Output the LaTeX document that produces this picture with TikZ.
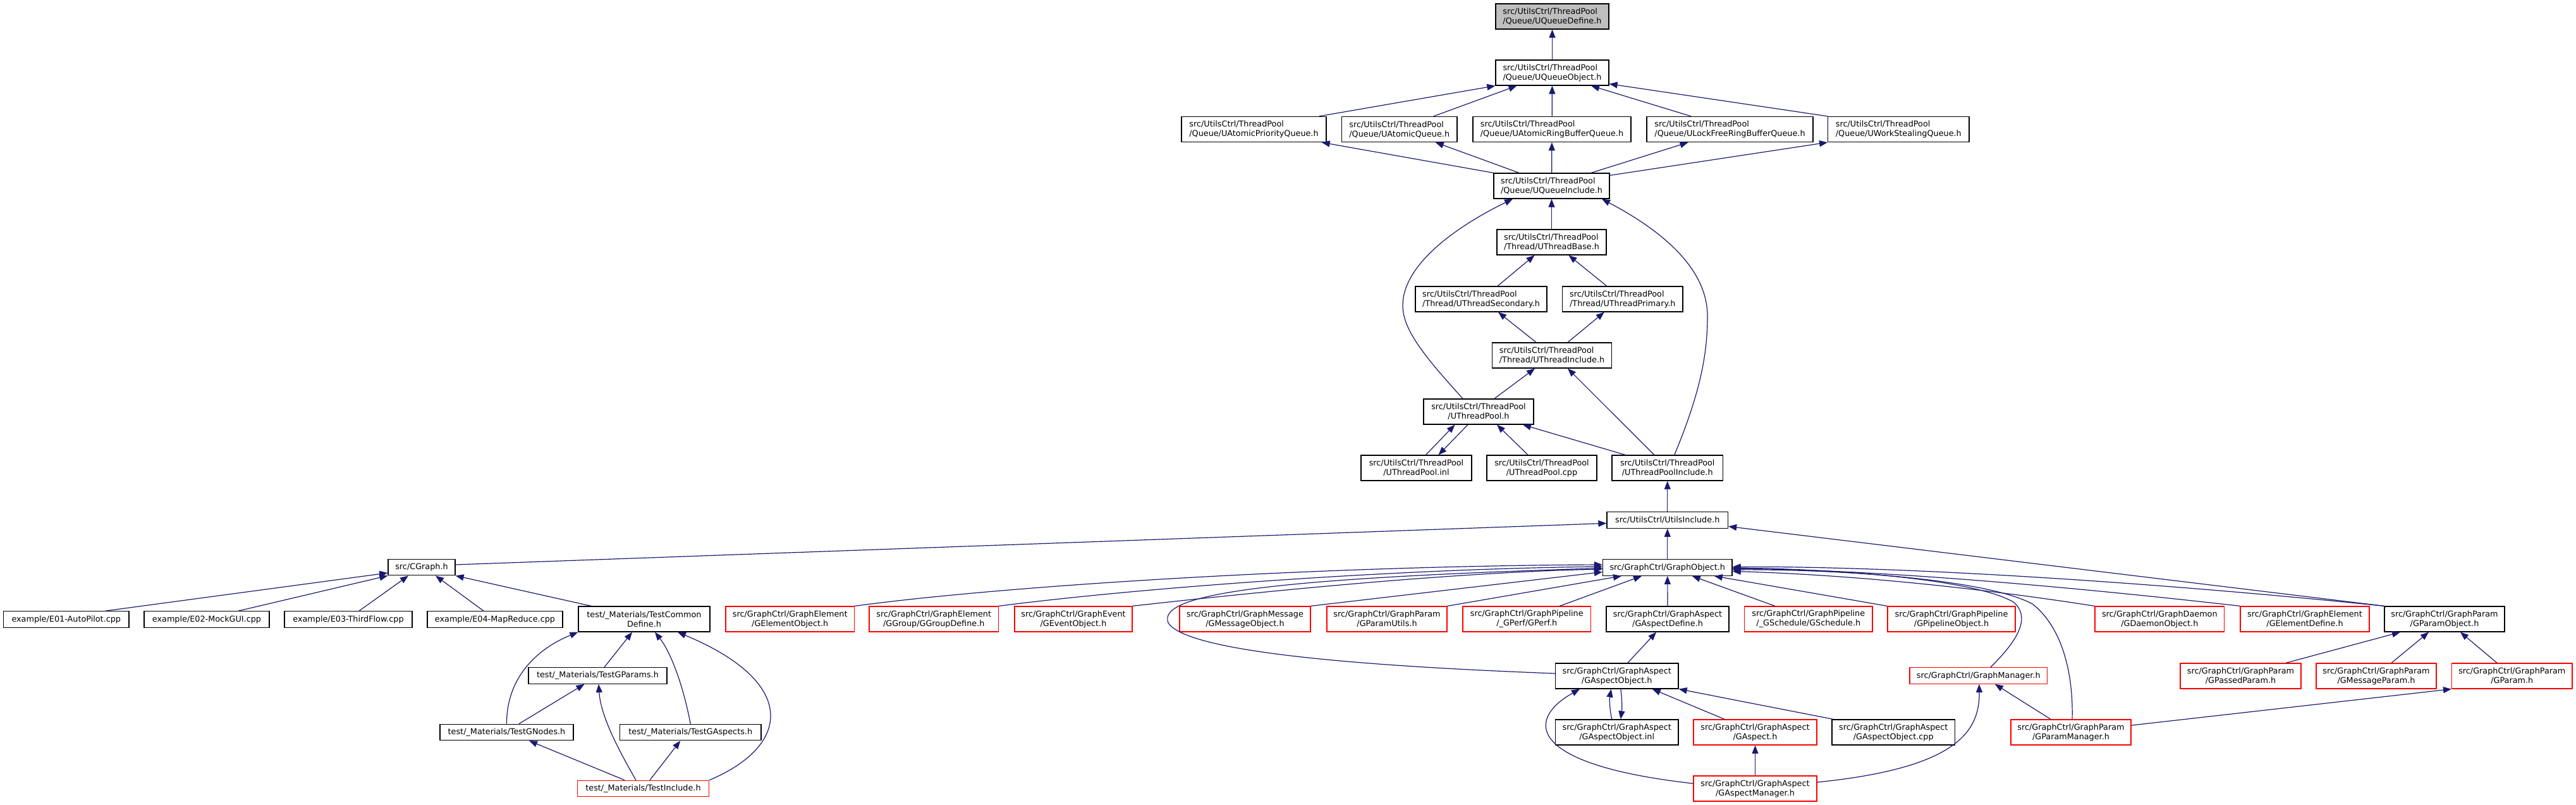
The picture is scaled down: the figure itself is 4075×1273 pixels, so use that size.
\documentclass[tikz,border=0pt]{standalone}
\usepackage{fontspec}
\newfontfamily\dxfont{DejaVu Sans}
\usetikzlibrary{arrows.meta}
\definecolor{edgec}{HTML}{191970}
\definecolor{rootc}{HTML}{BFBFBF}
\definecolor{redc}{HTML}{FF0000}
\tikzset{
  box/.style={draw=black, line width=1.3pt, fill=white, inner sep=0pt, minimum height=40, align=center, font=\dxfont\fontsize{12.8pt}{15pt}\selectfont},
  onel/.style={minimum height=25.5},
  redbox/.style={box, draw=redc},
  rootbox/.style={box, fill=rootc},
  lft/.style={align=left},
  e/.style={draw=edgec, line width=1.2pt, -{Triangle[length=13pt,width=10pt]}},
}
\begin{document}
\begin{tikzpicture}[x=1pt,y=-1pt]
\useasboundingbox (0,0) rectangle (4075,1273);
% ---------------- nodes ----------------
\node[rootbox,lft,minimum width=179] (qdef) at (2455.5,26) {src/UtilsCtrl/ThreadPool\\/Queue/UQueueDefine.h};
\node[box,lft,minimum width=179] (qobj) at (2455.5,115) {src/UtilsCtrl/ThreadPool\\/Queue/UQueueObject.h};
\node[box,lft,minimum width=229] (qprio) at (1983.5,204.5) {src/UtilsCtrl/ThreadPool\\/Queue/UAtomicPriorityQueue.h};
\node[box,lft,minimum width=182.5] (qatom) at (2213.75,204.5) {src/UtilsCtrl/ThreadPool\\/Queue/UAtomicQueue.h};
\node[box,lft,minimum width=250] (qring) at (2455,204.5) {src/UtilsCtrl/ThreadPool\\/Queue/UAtomicRingBufferQueue.h};
\node[box,lft,minimum width=263] (qlock) at (2736.5,204.5) {src/UtilsCtrl/ThreadPool\\/Queue/ULockFreeRingBufferQueue.h};
\node[box,lft,minimum width=223.3] (qsteal) at (3003.3,204.5) {src/UtilsCtrl/ThreadPool\\/Queue/UWorkStealingQueue.h};
\node[box,lft,minimum width=183] (qinc) at (2454.5,294) {src/UtilsCtrl/ThreadPool\\/Queue/UQueueInclude.h};
\node[box,lft,minimum width=173] (tbase) at (2454.5,383) {src/UtilsCtrl/ThreadPool\\/Thread/UThreadBase.h};
\node[box,lft,minimum width=208] (tsec) at (2343,473) {src/UtilsCtrl/ThreadPool\\/Thread/UThreadSecondary.h};
\node[box,lft,minimum width=190.5] (tprim) at (2566.75,473) {src/UtilsCtrl/ThreadPool\\/Thread/UThreadPrimary.h};
\node[box,lft,minimum width=189] (tinc) at (2455,562) {src/UtilsCtrl/ThreadPool\\/Thread/UThreadInclude.h};
\node[box,minimum width=174] (tpool) at (2339,651) {src/UtilsCtrl/ThreadPool\\/UThreadPool.h};
\node[box,minimum width=175] (tinl) at (2240.5,740) {src/UtilsCtrl/ThreadPool\\/UThreadPool.inl};
\node[box,minimum width=174] (tcpp) at (2439,740) {src/UtilsCtrl/ThreadPool\\/UThreadPool.cpp};
\node[box,minimum width=175.5] (tpinc) at (2637.75,740) {src/UtilsCtrl/ThreadPool\\/UThreadPoolInclude.h};
\node[box,onel,minimum width=191.5] (uinc) at (2637.75,822.5) {src/UtilsCtrl/UtilsInclude.h};
\node[box,onel,minimum width=204.5] (gobj) at (2637.75,897.5) {src/GraphCtrl/GraphObject.h};
\node[box,onel,minimum width=106] (cgraph) at (667,897) {src/CGraph.h};
% row 959-999
\node[box,onel,minimum width=198.4] (e01) at (104.8,979.5) {example/E01-AutoPilot.cpp};
\node[box,onel,minimum width=198] (e02) at (327,979.5) {example/E02-MockGUI.cpp};
\node[box,onel,minimum width=202] (e03) at (551,979.5) {example/E03-ThirdFlow.cpp};
\node[box,onel,minimum width=214] (e04) at (783,979.5) {example/E04-MapReduce.cpp};
\node[box,minimum width=208] (tcd) at (1019,979) {test/\_Materials/TestCommon\\Define.h};
\node[redbox,minimum width=203.5] (gelobj) at (1249.75,979) {src/GraphCtrl/GraphElement\\/GElementObject.h};
\node[redbox,minimum width=204.5] (ggroup) at (1477.25,979) {src/GraphCtrl/GraphElement\\/GGroup/GGroupDefine.h};
\node[redbox,minimum width=186] (gevent) at (1698,979) {src/GraphCtrl/GraphEvent\\/GEventObject.h};
\node[redbox,minimum width=207] (gmsg) at (1969.5,979) {src/GraphCtrl/GraphMessage\\/GMessageObject.h};
\node[redbox,minimum width=190] (gputils) at (2194,979) {src/GraphCtrl/GraphParam\\/GParamUtils.h};
\node[redbox,minimum width=202.6] (gperf) at (2415.3,979) {src/GraphCtrl/GraphPipeline\\/\_GPerf/GPerf.h};
\node[box,minimum width=194] (gadef) at (2638,979) {src/GraphCtrl/GraphAspect\\/GAspectDefine.h};
\node[redbox,minimum width=202.4] (gsched) at (2860.8,979) {src/GraphCtrl/GraphPipeline\\/\_GSchedule/GSchedule.h};
\node[redbox,minimum width=202] (gpipe) at (3087,979) {src/GraphCtrl/GraphPipeline\\/GPipelineObject.h};
\node[redbox,minimum width=204.6] (gdaemon) at (3416.3,979) {src/GraphCtrl/GraphDaemon\\/GDaemonObject.h};
\node[redbox,minimum width=204] (geldef) at (3646,979) {src/GraphCtrl/GraphElement\\/GElementDefine.h};
\node[box,minimum width=190] (gpobj) at (3867,979) {src/GraphCtrl/GraphParam\\/GParamObject.h};
% row 1049-1089
\node[box,onel,minimum width=219] (tgparams) at (945.5,1068.5) {test/\_Materials/TestGParams.h};
\node[box,minimum width=194.5] (gaobj) at (2557.75,1069) {src/GraphCtrl/GraphAspect\\/GAspectObject.h};
\node[redbox,onel,minimum width=217.6] (gmgr) at (3129.8,1068.5) {src/GraphCtrl/GraphManager.h};
\node[redbox,minimum width=191] (gpassed) at (3544.5,1069) {src/GraphCtrl/GraphParam\\/GPassedParam.h};
\node[redbox,minimum width=190] (gmsgparam) at (3759,1069) {src/GraphCtrl/GraphParam\\/GMessageParam.h};
\node[redbox,minimum width=190.4] (gparam) at (3973.8,1069) {src/GraphCtrl/GraphParam\\/GParam.h};
% row 1138-1178
\node[box,onel,minimum width=211] (tgnodes) at (801.5,1158) {test/\_Materials/TestGNodes.h};
\node[box,onel,minimum width=223.5] (tgaspects) at (1092.25,1158) {test/\_Materials/TestGAspects.h};
\node[box,minimum width=194.5] (gainl) at (2557.75,1158) {src/GraphCtrl/GraphAspect\\/GAspectObject.inl};
\node[redbox,minimum width=195] (gaspect) at (2776.5,1158) {src/GraphCtrl/GraphAspect\\/GAspect.h};
\node[box,minimum width=194.5] (gacpp) at (2995.25,1158) {src/GraphCtrl/GraphAspect\\/GAspectObject.cpp};
\node[redbox,minimum width=190] (gpmgr) at (3276,1158) {src/GraphCtrl/GraphParam\\/GParamManager.h};
% row 1227-1267
\node[redbox,onel,minimum width=208] (tinclude) at (1017.5,1247) {test/\_Materials/TestInclude.h};
\node[redbox,minimum width=195] (gamgr) at (2776.5,1247) {src/GraphCtrl/GraphAspect\\/GAspectManager.h};
% ---------------- edges ----------------
% queue
\draw[e] (qobj) -- (qdef);
\draw[e] ([xshift=-12]qprio.north east) -- (qobj.south west);
\draw[e] ([xshift=54]qatom.north) -- ([xshift=-56]qobj.south);
\draw[e] (qring) -- (qobj);
\draw[e] ([xshift=-61.5]qlock.north) -- ([xshift=61.5]qobj.south);
\draw[e] (qsteal.north west) -- ([yshift=3]qobj.south east);
\draw[e] (qinc.north west) -- ([xshift=-8]qprio.south east);
\draw[e] ([xshift=-51.5]qinc.north) -- ([xshift=57]qatom.south);
\draw[e] (qinc) -- (qring);
\draw[e] ([xshift=62.5]qinc.north) -- ([xshift=-66]qlock.south);
\draw[e] ([yshift=-4]qinc.north east) -- (qsteal.south west);
% thread
\draw[e] (tbase) -- (qinc);
\draw[e] ([xshift=26]tsec.north) -- ([xshift=-27]tbase.south);
\draw[e] ([xshift=-25]tprim.north) -- ([xshift=27]tbase.south);
\draw[e] ([xshift=-25]tinc.north) -- ([xshift=27]tsec.south);
\draw[e] ([xshift=25]tinc.north) -- ([xshift=-29]tprim.south);
\draw[e] ([xshift=25]tpool.north) -- ([xshift=-27]tinc.south);
\draw[e] ([xshift=-21]tpinc.north) -- ([xshift=25]tinc.south);
\draw[e] ([xshift=-25]tpool.north) .. controls (2250,560) and (2219,520) .. (2219,483) .. controls (2219,420) and (2300,360) .. ([xshift=-61.5]qinc.south);
\draw[e] ([xshift=11]tpinc.north) .. controls (2690,620) and (2701,560) .. (2701,500) .. controls (2701,420) and (2620,360) .. ([xshift=79.5]qinc.south);
\draw[e] ([xshift=15]tinl.north) -- ([xshift=-37.5]tpool.south);
\draw[e] ([xshift=-17]tpool.south) -- ([xshift=35]tinl.north);
\draw[e] ([xshift=-22]tcpp.north) -- ([xshift=29]tpool.south);
\draw[e] ([xshift=-66.75]tpinc.north) -- ([xshift=70]tpool.south);
\draw[e] (uinc) -- (tpinc);
\draw[e] (gobj) -- (uinc);
\draw[e] ([yshift=4]cgraph.east) -- ([yshift=-5]uinc.west);
\draw[e] (gpobj.north west) -- ([yshift=-10]uinc.east);
% cgraph
\draw[e] ([xshift=62]e01.north) -- ([yshift=-9]cgraph.west);
\draw[e] ([xshift=50]e02.north) -- (cgraph.south west);
\draw[e] ([xshift=17]e03.north) -- ([xshift=-21]cgraph.south);
\draw[e] ([xshift=-18]e04.north) -- ([xshift=22]cgraph.south);
\draw[e] ([xshift=21]tcd.north west) -- (cgraph.south east);
% tests
\draw[e] ([xshift=10.5]tgparams.north) -- ([xshift=-19]tcd.south);
\draw[e] (tgnodes.north) .. controls (801,1080) and (840,1030) .. (tcd.south west);
\draw[e] (tgaspects.north) .. controls (1080,1080) and (1060,1030) .. ([xshift=17]tcd.south);
\draw[e] (tinclude.north east) .. controls (1250,1180) and (1265,1080) .. ([xshift=53]tcd.south);
\draw[e] ([xshift=19.5]tgnodes.north) -- ([xshift=-21]tgparams.south);
\draw[e] ([xshift=-11.5]tinclude.north) .. controls (975,1180) and (950,1130) .. ([xshift=1.5]tgparams.south);
\draw[e] ([xshift=-29.5]tinclude.north) -- ([xshift=35.5]tgnodes.south);
\draw[e] ([xshift=10.5]tinclude.north) -- ([xshift=-16]tgaspects.south);
% graph object, left side
\draw[e] (gelobj.north east) .. controls (1600,925) and (2100,895) .. ([yshift=4.5]gobj.west);
\draw[e] (ggroup.north east) .. controls (1800,930) and (2200,900) .. ([yshift=1.5]gobj.west);
\draw[e] (gevent.north east) .. controls (2000,935) and (2300,905) .. ([yshift=-2.5]gobj.west);
\draw[e] (gmsg.north east) -- ([yshift=-7]gobj.west);
\draw[e] (gputils.north east) -- ([xshift=-72.75]gobj.south);
\draw[e] ([xshift=52]gperf.north) -- ([xshift=-40.75]gobj.south);
\draw[e] ([yshift=4]gaobj.west) .. controls (2200,1055) and (1880,1035) .. (1848,985) .. controls (1830,940) and (2000,915) .. ([yshift=-1]gobj.west);
\draw[e] (gadef) -- (gobj);
% graph object, right side
\draw[e] ([xshift=-53]gsched.north) -- ([xshift=39]gobj.south);
\draw[e] (gpipe.north west) -- ([xshift=74]gobj.south);
\draw[e] (gdaemon.north west) .. controls (3100,925) and (2900,908) .. ([yshift=-6]gobj.east);
\draw[e] (geldef.north west) .. controls (3250,925) and (2950,900) .. ([yshift=-2]gobj.east);
\draw[e] (gpobj.north west) .. controls (3400,920) and (3000,895) .. ([yshift=1]gobj.east);
\draw[e] ([xshift=19]gmgr.north) .. controls (3195,1010) and (3212,975) .. (3185,952) .. controls (3120,915) and (2900,900) .. ([yshift=-0.5]gobj.east);
\draw[e] ([xshift=2]gpmgr.north) .. controls (3280,1060) and (3260,990) .. (3215,955) .. controls (3140,915) and (2900,900) .. ([yshift=-3.5]gobj.east);
% graph aspect
\draw[e] ([xshift=17]gaobj.north) -- ([xshift=-18]gadef.south);
\draw[e] ([xshift=-8]gainl.north) .. controls (2546,1120) and (2546,1105) .. ([xshift=-9]gaobj.south);
\draw[e] ([xshift=6]gaobj.south) .. controls (2566,1105) and (2566,1120) .. ([xshift=6]gainl.north);
\draw[e] ([xshift=-48.5]gaspect.north) -- ([xshift=56]gaobj.south);
\draw[e] ([xshift=2.5]gacpp.north west) -- (gaobj.south east);
\draw[e] ([yshift=8]gamgr.west) .. controls (2420,1210) and (2410,1140) .. ([xshift=-58.75]gaobj.south);
\draw[e] (gamgr) -- (gaspect);
\draw[e] ([yshift=10]gamgr.east) .. controls (3090,1215) and (3132,1160) .. ([xshift=1]gmgr.south);
\draw[e] ([xshift=-32]gpmgr.north) -- ([xshift=26]gmgr.south);
\draw[e] ([yshift=11]gpmgr.east) -- (gparam.south west);
% graph param
\draw[e] ([xshift=71.5]gpassed.north) -- ([xshift=-70]gpobj.south);
\draw[e] ([xshift=24]gmsgparam.north) -- ([xshift=-25]gpobj.south);
\draw[e] ([xshift=-23.8]gparam.north) -- ([xshift=25]gpobj.south);
\end{tikzpicture}
\end{document}
